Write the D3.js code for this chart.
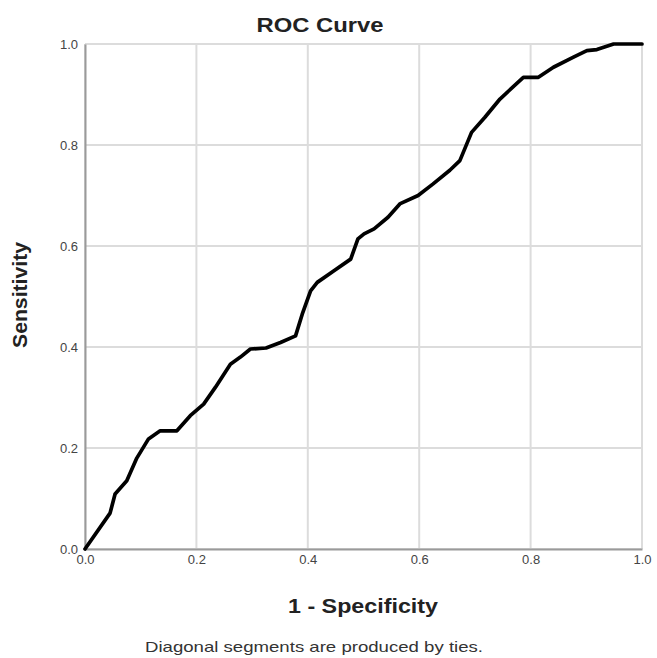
<!DOCTYPE html>
<html>
<head>
<meta charset="utf-8">
<script src="https://cdn.jsdelivr.net/npm/d3@7"></script>
<style>
  body { margin: 0; background: #fff; }
  text { font-family: "Liberation Sans", Arial, sans-serif; }
</style>
</head>
<body>
<script>
// ROC curve points
var fpr = [0, 0.045, 0.054, 0.075, 0.093, 0.114, 0.135, 0.165, 0.189, 0.213, 0.234, 0.261, 0.279, 0.297,
  0.325, 0.351, 0.378, 0.390, 0.405, 0.417, 0.447, 0.477, 0.490, 0.501, 0.519, 0.544, 0.566, 0.598,
  0.625, 0.655, 0.673, 0.694, 0.718, 0.745, 0.787, 0.814, 0.841, 0.877, 0.901, 0.919, 0.949, 1]
var tpr = [0, 0.071, 0.109, 0.135, 0.180, 0.218, 0.234, 0.234, 0.264, 0.287, 0.320, 0.366, 0.380, 0.396,
  0.398, 0.409, 0.422, 0.465, 0.511, 0.528, 0.551, 0.574, 0.614, 0.624, 0.634, 0.657, 0.684, 0.700,
  0.723, 0.750, 0.769, 0.825, 0.855, 0.891, 0.934, 0.934, 0.954, 0.974, 0.987, 0.989, 1.0, 1]
var ticks = [0, 0.2, 0.4, 0.6, 0.8, 1.0]

var svg = d3.select("body").append("svg")
  .attr("width", 657)
  .attr("height", 658)

var pLeft = 85, pRight = 642, pTop = 44, pBottom = 549

var x = d3.scaleLinear().domain([0, 1]).range([pLeft, pRight])
var y = d3.scaleLinear().domain([0, 1]).range([pBottom, pTop])

// grid
svg.append("g").selectAll("line").data(ticks).enter().append("line")
  .attr("x1", d => x(d)).attr("x2", d => x(d))
  .attr("y1", pTop).attr("y2", pBottom)
  .attr("stroke", "#dcdcdc").attr("stroke-width", 2)
svg.append("g").selectAll("line").data(ticks).enter().append("line")
  .attr("x1", pLeft).attr("x2", pRight)
  .attr("y1", d => y(d)).attr("y2", d => y(d))
  .attr("stroke", "#dcdcdc").attr("stroke-width", 2)

// axes
svg.append("g").attr("transform", "translate(0," + pBottom + ")")
  .call(d3.axisBottom(x).tickValues(ticks).tickFormat(d3.format(".1f")).tickSize(0).tickPadding(6))
svg.append("g").attr("transform", "translate(" + pLeft + ",0)")
  .call(d3.axisLeft(y).tickValues(ticks).tickFormat(d3.format(".1f")).tickSize(0).tickPadding(7))
svg.selectAll(".domain").attr("stroke", "#9a9a9a").attr("stroke-width", 2)
svg.selectAll(".tick text")
  .attr("font-family", "Liberation Sans, Arial, sans-serif")
  .attr("font-size", 13).attr("fill", "#444")

// curve
var pts = fpr.map((d, i) => [d, tpr[i]])
svg.append("path")
  .datum(pts)
  .attr("d", d3.line().x(d => x(d[0])).y(d => y(d[1])))
  .attr("fill", "none")
  .attr("stroke", "#000")
  .attr("stroke-width", 3.7)
  .attr("stroke-linejoin", "round")
  .attr("stroke-linecap", "round")

// titles (the source text is a bit stretched sideways)
svg.append("text").text("ROC Curve")
  .attr("x", 320).attr("y", 32)
  .attr("textLength", 127).attr("lengthAdjust", "spacingAndGlyphs")
  .attr("text-anchor", "middle").attr("font-size", 20).attr("font-weight", "bold").attr("fill", "#222")
svg.append("text").text("1 - Specificity")
  .attr("x", 363).attr("y", 613)
  .attr("textLength", 150).attr("lengthAdjust", "spacingAndGlyphs")
  .attr("text-anchor", "middle").attr("font-size", 21).attr("font-weight", "bold").attr("fill", "#222")
svg.append("text").text("Sensitivity")
  .attr("transform", "translate(27,295) rotate(-90)")
  .attr("textLength", 106).attr("lengthAdjust", "spacingAndGlyphs")
  .attr("text-anchor", "middle").attr("font-size", 21).attr("font-weight", "bold").attr("fill", "#222")
svg.append("text").text("Diagonal segments are produced by ties.")
  .attr("x", 314).attr("y", 652)
  .attr("textLength", 338).attr("lengthAdjust", "spacingAndGlyphs")
  .attr("text-anchor", "middle").attr("font-size", 15).attr("fill", "#333")
</script>
</body>
</html>
